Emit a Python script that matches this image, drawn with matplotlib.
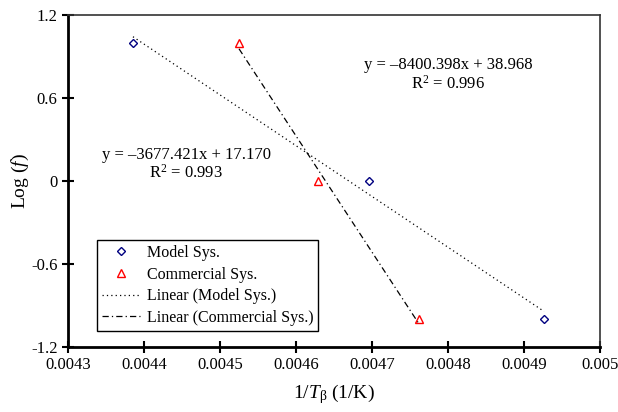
import numpy as np
import matplotlib
matplotlib.use('Agg')
import matplotlib.pyplot as plt

plt.rcParams['font.family'] = ['Liberation Serif', 'DejaVu Serif']
plt.rcParams['mathtext.fontset'] = 'custom'
plt.rcParams['mathtext.rm'] = 'Liberation Serif'
plt.rcParams['mathtext.it'] = 'Liberation Serif:italic'

# data
model_x = [0.0043855, 0.004696, 0.0049263]
model_y = [1.0, 0.0, -1.0]
comm_x = [0.004525, 0.004629, 0.004762]
comm_y = [1.0, 0.0, -1.0]
x_ticks = [0.0043, 0.0044, 0.0045, 0.0046, 0.0047, 0.0048, 0.0049, 0.005]
x_labels = ['0.0043', '0.0044', '0.0045', '0.0046', '0.0047', '0.0048', '0.0049', '0.005']
y_ticks = [-1.2, -0.6, 0, 0.6, 1.2]
y_labels = ['-1.2', '-0.6', '0', '0.6', '1.2']

fig = plt.figure(figsize=(6.18, 4.12), dpi=100)
ax = fig.add_axes([0.110, 0.158, 0.861, 0.806])

ax.plot(model_x, model_y, 'D', ms=4.5, mfc='none', mec='#000080', mew=1, label='Model Sys.', zorder=3)
ax.plot(comm_x, comm_y, '^', ms=6, mfc='none', mec='red', mew=1, label='Commercial Sys.', zorder=3)

# linear trendlines
p1 = np.polyfit(model_x, model_y, 1)
p2 = np.polyfit(comm_x, comm_y, 1)
xs1 = np.array([min(model_x), max(model_x)])
xs2 = np.array([min(comm_x), max(comm_x)])
ax.plot(xs1, np.polyval(p1, xs1), color='black', lw=0.9, ls=(0, (1, 2.5)), label='Linear (Model Sys.)')
ax.plot(xs2, np.polyval(p2, xs2), color='black', lw=0.9, ls=(0, (5, 2.5, 1, 2.5)), label='Linear (Commercial Sys.)')

ax.text(0.0044555, 0.19, 'y = \u20133677.421x + 17.170', ha='center', va='center', fontsize=12)
ax.text(0.0044555, 0.06, 'R$^2$ = 0.993', ha='center', va='center', fontsize=12)
ax.text(0.0048, 0.84, 'y = \u20138400.398x + 38.968', ha='center', va='center', fontsize=12)
ax.text(0.0048, 0.70, 'R$^2$ = 0.996', ha='center', va='center', fontsize=12)

ax.set_xlim(0.0043, 0.005)
ax.set_ylim(-1.2, 1.2)
ax.set_xticks(x_ticks)
ax.set_xticklabels(x_labels)
ax.set_yticks(y_ticks)
ax.set_yticklabels(y_labels)
ax.tick_params(direction='inout', length=8, width=1.5, labelsize=12)
for s in ['left', 'bottom']:
    ax.spines[s].set_linewidth(2)
for s in ['top', 'right']:
    ax.spines[s].set_linewidth(1.2)
    ax.spines[s].set_color('#333333')

ax.set_xlabel(r'$\mathit{1/T}_{\mathrm{\beta}}$ (1/K)', fontsize=14, labelpad=6)
ax.set_ylabel(r'Log ($\mathit{f}$)', fontsize=14, labelpad=0)

leg = ax.legend(loc='lower left', bbox_to_anchor=(0.04, 0.025), fontsize=11.5, frameon=True,
                fancybox=False, edgecolor='black', framealpha=1, handlelength=2.4,
                borderpad=0.3, labelspacing=0.35, handletextpad=0.4)
leg.get_frame().set_linewidth(1)

fig.savefig('out.png', dpi=100)
